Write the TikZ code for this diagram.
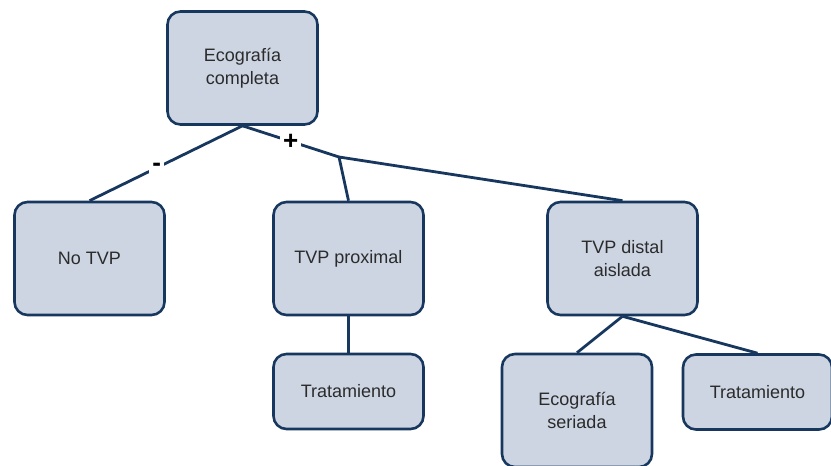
\documentclass[tikz,border=0pt]{standalone}
\usepackage{fontspec}
\setmainfont{Liberation Sans}
\definecolor{boxfill}{HTML}{CDD5E3}
\definecolor{boxline}{HTML}{17375E}
\definecolor{txt}{HTML}{2B2B2B}
\begin{document}
\begin{tikzpicture}[x=1pt,y=-1pt,
  box/.style={draw=boxline, line width=2.6pt, fill=boxfill, rounded corners=13pt,
    minimum width=150pt, align=center, text=txt, font=\fontsize{18}{22.5}\selectfont, inner sep=0pt},
  conn/.style={draw=boxline, line width=2.8pt},
  sign/.style={fill=white, inner sep=3pt, font=\fontsize{26}{26}\selectfont\bfseries, text=black}]
\useasboundingbox (0,0) rectangle (831,466);
\clip (0,0) rectangle (831,466);
\node[box, minimum height=113pt] (eco) at (242.5,68) {Ecografía\\completa};
\node[box, minimum height=113pt] (notvp) at (89.5,258.5) {No TVP};
\node[box, minimum height=113pt] (prox) at (348.5,258.5) {TVP proximal};
\node[box, minimum height=113pt] (dist) at (622.5,258.5) {TVP distal\\aislada};
\node[box, minimum height=75pt] (trat1) at (348.5,391.5) {Tratamiento};
\node[box, minimum height=113pt] (ecos) at (577,410.5) {Ecografía\\seriada};
\node[box, minimum width=149pt, minimum height=75pt] (trat2) at (757.5,392) {Tratamiento};
\coordinate (j) at (339,157);
\draw[conn] (eco.south) -- node[sign, pos=0.56] {-} (notvp.north);
\draw[conn] (eco.south) -- node[sign, pos=0.5] {+} (j);
\draw[conn] (j) -- (prox.north);
\draw[conn] (j) -- (dist.north);
\draw[conn] (prox.south) -- (trat1.north);
\draw[conn] (dist.south) -- (ecos.north);
\draw[conn] (dist.south) -- (trat2.north);
\end{tikzpicture}
\end{document}
